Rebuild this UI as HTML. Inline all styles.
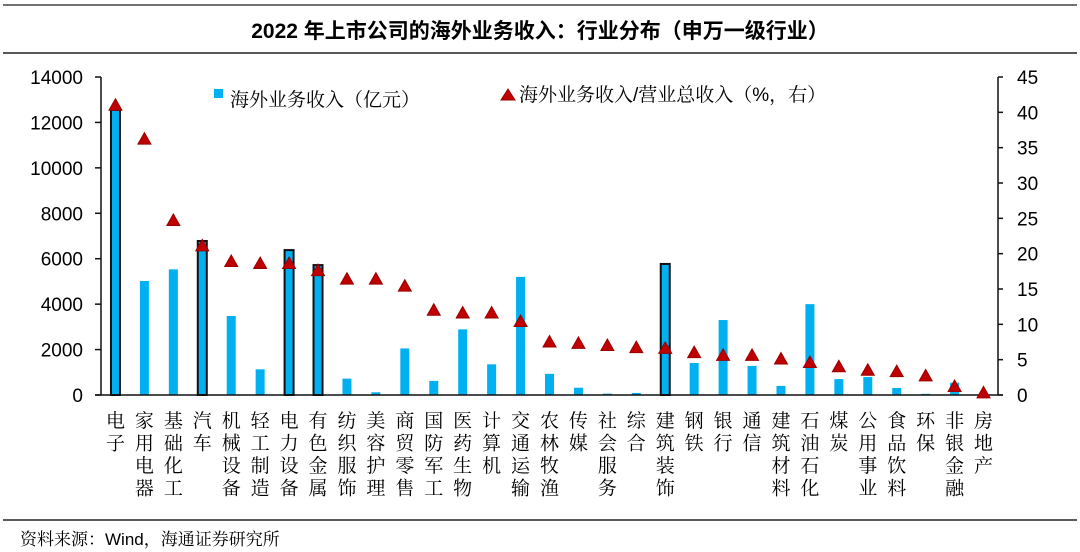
<!DOCTYPE html>
<html><head><meta charset="utf-8"><style>
body{margin:0;background:#fff;}
svg{display:block;font-family:"Liberation Sans","Noto Sans CJK SC",sans-serif;}
.cjk{font-family:"Liberation Sans","Noto Serif CJK SC","Noto Serif CJK JP",serif;}
.src{font-family:"Liberation Sans","Noto Serif CJK SC",sans-serif;}
</style></head><body>
<svg id="chart" width="1080" height="552">
<line x1="3" y1="5" x2="1077" y2="5" stroke="#444" stroke-width="1.5"/>
<text x="540" y="38" text-anchor="middle" font-size="21" font-weight="bold">2022 年上市公司的海外业务收入：行业分布（申万一级行业）</text>
<line x1="3" y1="53" x2="1077" y2="53" stroke="#222" stroke-width="1.5"/>
<line x1="3" y1="520" x2="1077" y2="520" stroke="#222" stroke-width="1.5"/>
<text x="20" y="545" font-size="17" class="src">资料来源：Wind，海通证券研究所</text>
<g id="legend">
<rect x="214" y="89" width="9" height="9" fill="#00b0f0"/>
<text x="230" y="106" font-size="19" class="cjk">海外业务收入（亿元）</text>
<polygon points="508,89 501,100 515,100" fill="#c00000" stroke="#900"/>
<text x="519" y="101" font-size="19" class="cjk">海外业务收入/营业总收入（%，右）</text>
</g>
<g id="plot"></g>
</svg>
<script>
const categories=["电子","家用电器","基础化工","汽车","机械设备","轻工制造","电力设备","有色金属","纺织服饰","美容护理","商贸零售","国防军工","医药生物","计算机","交通运输","农林牧渔","传媒","社会服务","综合","建筑装饰","钢铁","银行","通信","建筑材料","石油石化","煤炭","公用事业","食品饮料","环保","非银金融","房地产"];
const revenue=[12550,5020,5530,6780,3480,1130,6380,5720,720,120,2050,620,2890,1350,5200,930,320,60,90,5770,1410,3300,1280,400,4000,700,790,310,50,540,0];
const ratio=[41.0,36.2,24.7,21.1,18.9,18.6,18.6,17.6,16.4,16.4,15.4,12.0,11.6,11.6,10.4,7.5,7.3,7.0,6.7,6.6,6.0,5.6,5.6,5.1,4.6,4.0,3.5,3.3,2.7,1.2,0.3];
const highlighted=["电子","汽车","电力设备","有色金属","建筑装饰"];
const leftTicks=[0,2000,4000,6000,8000,10000,12000,14000];
const rightTicks=[0,5,10,15,20,25,30,35,40,45];

const X0=101,X1=998,Y0=395,Y1=77;
const band=(X1-X0)/categories.length;
const xc=i=>X0+(i+0.5)*band;
const yL=v=>Y0-(v/14000)*(Y0-Y1);
const yR=v=>Y0-(v/45)*(Y0-Y1);
const NS="http://www.w3.org/2000/svg";
const g=document.getElementById('plot');
function mk(t,a){const e=document.createElementNS(NS,t);for(const k in a)e.setAttribute(k,a[k]);g.appendChild(e);return e;}

revenue.forEach((v,i)=>{
  const hl=highlighted.includes(categories[i]);
  const w=9;
  const r=mk('rect',{x:xc(i)-w/2,y:yL(v),width:w,height:Y0-yL(v),fill:'#00b0f0',stroke:hl?'#111':'none','stroke-width':hl?2:0});
  
  
});
let a=mk('line',{x1:X0,y1:Y1,x2:X0,y2:Y0,stroke:'#111','stroke-width':1.5});


a=mk('line',{x1:X1,y1:Y1,x2:X1,y2:Y0,stroke:'#111','stroke-width':1.5});


a=mk('line',{x1:95,y1:Y0,x2:X1+5,y2:Y0,stroke:'#111','stroke-width':1.5});


leftTicks.forEach(t=>{
  const y=yL(t);
  mk('line',{x1:95,y1:y,x2:X0,y2:y,stroke:'#111','stroke-width':1.5});
  const tx=mk('text',{x:83,y:y+7,'text-anchor':'end','font-size':19});
  tx.textContent=t;
  
  
});
rightTicks.forEach(t=>{
  const y=yR(t);
  mk('line',{x1:X1,y1:y,x2:X1+5,y2:y,stroke:'#111','stroke-width':1.5});
  const tx=mk('text',{x:1017,y:y+7,'font-size':19});
  tx.textContent=t;
  
  
});
ratio.forEach((v,i)=>{
  const x=xc(i),y=yR(v);
  const p=mk('polygon',{points:`${x},${y-6.5} ${x-6.5},${y+5} ${x+6.5},${y+5}`,fill:'#c00000',stroke:'#900','stroke-width':1});
  
  
});
categories.forEach((c,i)=>{
  [...c].forEach((ch,j)=>{
    const t=mk('text',{x:xc(i),y:427+j*22.5,'text-anchor':'middle','font-size':19,class:'cjk'});
    t.textContent=ch;
    
    
  });
});
</script>
</body></html>
